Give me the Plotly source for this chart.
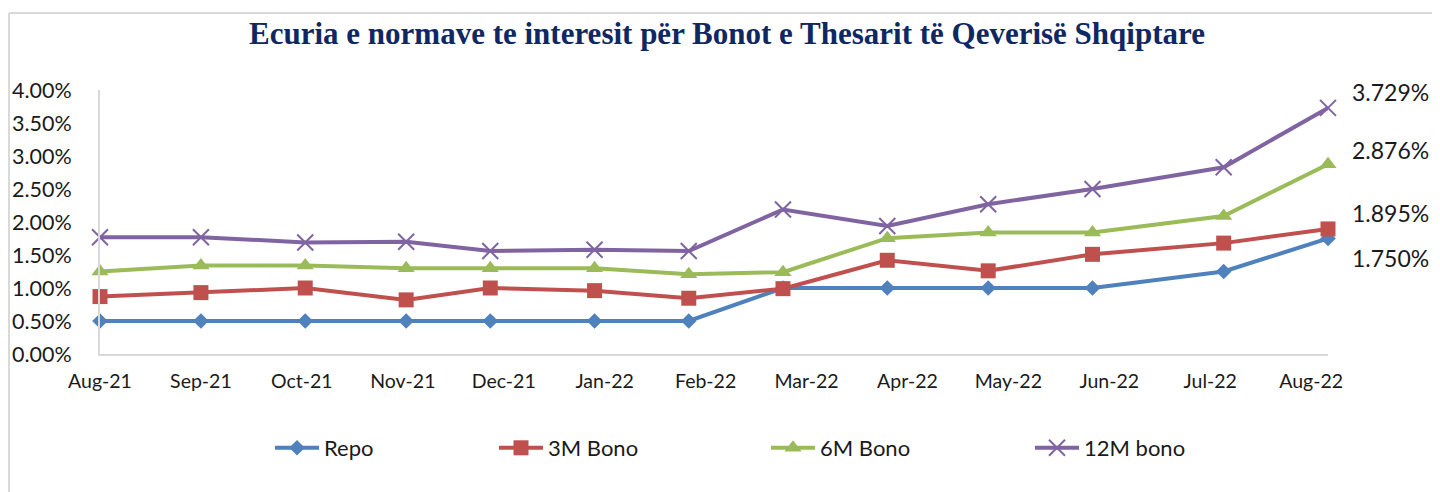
import plotly.graph_objects as go

# ---------------- data ----------------
dates = ["2021-08-26", "2021-09-25", "2021-10-26", "2021-11-25", "2021-12-20",
         "2022-01-20", "2022-02-17", "2022-03-17", "2022-04-17", "2022-05-17",
         "2022-06-17", "2022-07-26", "2022-08-26"]
repo = [0.50, 0.50, 0.50, 0.50, 0.50, 0.50, 0.50, 1.00, 1.00, 1.00, 1.00, 1.25, 1.750]
bono3m = [0.87, 0.93, 1.00, 0.82, 1.00, 0.96, 0.845, 0.99, 1.42, 1.26, 1.51, 1.68, 1.895]
bono6m = [1.25, 1.34, 1.34, 1.30, 1.30, 1.30, 1.21, 1.24, 1.755, 1.84, 1.84, 2.09, 2.876]
bono12m = [1.77, 1.77, 1.69, 1.70, 1.56, 1.58, 1.56, 2.19, 1.94, 2.27, 2.50, 2.83, 3.729]
series_names = ["Repo", "3M Bono", "6M Bono", "12M bono"]

title_text = "Ecuria e normave te interesit për Bonot e Thesarit të Qeverisë Shqiptare"

# ---------------- styles ----------------
colors = ["#4F81BD", "#C0504D", "#9BBB59", "#8064A2"]
symbols = ["diamond", "square", "triangle-up", "x-thin-open"]
msizes = [12, 15, 15, 16]
label_yshift = [-19, 16, 14, 16]
legend_x_px = [270, 494, 766, 1030]

OFF = 8  # page offset of the figure
W, H = 1440, 492
# target page pixel positions of plot area
PL, PR, PT, PB = 100, 1328, 90, 354
L, T = PL - OFF, PT - OFF
R = W - (PR - OFF)
B = H - (PB - OFF)
pw, ph = PR - PL, PB - PT

def px_x(p):
    return (p - PL) / pw

def px_y(p):
    return (PB - p) / ph

fig = go.Figure()
all_series = [repo, bono3m, bono6m, bono12m]
for i, (name, vals) in enumerate(zip(series_names, all_series)):
    marker = dict(symbol=symbols[i], size=msizes[i], color=colors[i])
    if symbols[i].startswith("x"):
        marker["line"] = dict(width=2, color=colors[i])
    fig.add_trace(go.Scatter(
        x=dates, y=vals, name=name, mode="lines+markers",
        line=dict(color=colors[i], width=4),
        marker=marker,
        legend="legend" if i == 0 else f"legend{i+1}",
        cliponaxis=False,
    ))
    fig.add_annotation(
        x=dates[-1], y=vals[-1], xref="x", yref="y",
        text=f"{vals[-1]:.3f}%", showarrow=False,
        xanchor="left", yanchor="middle", xshift=22, yshift=label_yshift[i],
        font=dict(family="Lato, Calibri, sans-serif", size=23, color="#1a1a1a"),
    )

legend_common = dict(orientation="h", yanchor="middle", xanchor="left",
                     y=px_y(448), bgcolor="rgba(0,0,0,0)", itemwidth=44,
                     font=dict(family="Liberation Sans Narrow, Lato, sans-serif",
                               size=22, color="#1a1a1a"))
layout_legends = {}
for i in range(4):
    key = "legend" if i == 0 else f"legend{i+1}"
    layout_legends[key] = dict(legend_common, x=px_x(legend_x_px[i]))

# chart border (left and top edges visible in the crop)
bx, by = px_x(OFF + 1), px_y(13)
shapes = [
    dict(type="line", xref="paper", yref="paper", x0=bx, x1=bx, y0=px_y(H + 30), y1=by,
         line=dict(color="#D9D9D9", width=2)),
    dict(type="line", xref="paper", yref="paper", x0=bx, x1=px_x(W + 30), y0=by, y1=by,
         line=dict(color="#D9D9D9", width=2)),
]

fig.update_layout(
    width=W, height=H,
    margin=dict(l=L, r=R, t=T, b=B, autoexpand=False),
    paper_bgcolor="white", plot_bgcolor="white",
    showlegend=True,
    title=dict(text=f"<b>{title_text}</b>", x=px_x(727), xanchor="center", xref="paper",
               y=1 - (33 - OFF) / H, yanchor="middle",
               font=dict(family="Palatino Linotype, Book Antiqua, Liberation Serif, serif",
                         size=31, color="#0F2863")),
    xaxis=dict(type="date", range=[dates[0], dates[-1]], tick0=dates[0],
               dtick=30 * 86400000, tickformat="%b-%y", automargin=False,
               showgrid=False, zeroline=False, showline=True, linecolor="#D9D9D9", linewidth=2,
               ticks="", ticklabelstandoff=9,
               tickfont=dict(family="Lato, Calibri, sans-serif", size=19.5, color="#1a1a1a")),
    yaxis=dict(range=[0, 4], dtick=0.5, tickformat=".2f", ticksuffix="%", automargin=False,
               showgrid=False, zeroline=False, showline=True, linecolor="#D9D9D9", linewidth=2,
               ticks="", ticklabelstandoff=22,
               tickfont=dict(family="Lato, Calibri, sans-serif", size=21.5, color="#1a1a1a")),
    shapes=shapes,
    **layout_legends,
)

fig.write_html("out.html")
